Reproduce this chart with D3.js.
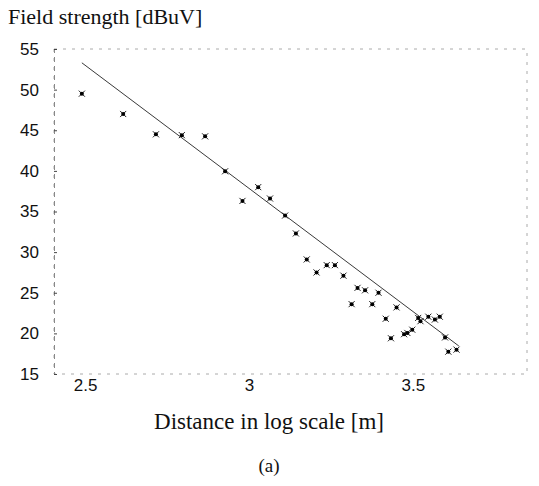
<!DOCTYPE html>
<html><head><meta charset="utf-8">
<script src="https://cdn.jsdelivr.net/npm/d3@7"></script>
<style>body{margin:0;background:#fff;}svg{display:block;}</style>
</head><body>
<script>
// Data
const distLog = [2.49, 2.616, 2.716, 2.795, 2.866, 2.927, 2.98, 3.028, 3.064, 3.11, 3.143, 3.176, 3.206, 3.237, 3.262, 3.288,
  3.313, 3.331, 3.354, 3.376, 3.395, 3.417, 3.433, 3.45, 3.473, 3.483, 3.498, 3.516, 3.523, 3.547, 3.567, 3.582, 3.598, 3.608, 3.633];
const fieldDb = [49.5, 47.0, 44.5, 44.4, 44.25, 39.95, 36.3, 38.0, 36.6, 34.5, 32.3, 29.1, 27.5, 28.4, 28.4, 27.1,
  23.6, 25.6, 25.3, 23.6, 25.0, 21.8, 19.4, 23.2, 19.9, 20.05, 20.45, 21.9, 21.5, 22.05, 21.7, 22.05, 19.5, 17.75, 18.0];
const fitX = [2.49, 3.64];
const fitY = [53.3, 18.45];
const yTicks = [15, 20, 25, 30, 35, 40, 45, 50, 55];
const xTicks = [2.5, 3, 3.5];

const W = 539, H = 486;
const svg = d3.select("body").append("svg").attr("width", W).attr("height", H);
const x = d3.scaleLinear().domain([2.405, 3.848]).range([54, 527]);
const y = d3.scaleLinear().domain([15, 55]).range([374, 49]);

// frame
svg.append("rect").attr("x", 54).attr("y", 49).attr("width", 473).attr("height", 325)
  .attr("fill", "none").attr("stroke", "#aaa").attr("stroke-width", 1).attr("stroke-dasharray", "3,6");

// y axis
const ya = svg.append("g").attr("transform", "translate(54,0)")
  .call(d3.axisLeft(y).tickValues(yTicks).tickSize(-3).tickPadding(15).tickFormat(d3.format("d")));
ya.select(".domain").attr("stroke", "#888").attr("stroke-dasharray", "5,4");
ya.selectAll(".tick line").attr("stroke", "#444");
ya.selectAll("text").attr("font-family", "Liberation Sans, Arial, sans-serif").attr("font-size", 17).attr("fill", "#111");

// x axis
const xa = svg.append("g").attr("transform", "translate(0,374)")
  .call(d3.axisBottom(x).tickValues(xTicks).tickSize(0).tickPadding(5).tickFormat(d => String(d)));
xa.select(".domain").remove();
xa.selectAll("text").attr("font-family", "Liberation Sans, Arial, sans-serif").attr("font-size", 17).attr("fill", "#111");

// fit line
svg.append("path").datum(fitX.map((d, i) => [d, fitY[i]]))
  .attr("d", d3.line().x(d => x(d[0])).y(d => y(d[1])))
  .attr("fill", "none").attr("stroke", "#222").attr("stroke-width", 0.9);

// points
const pts = distLog.map((d, i) => [d, fieldDb[i]]);
const sym = d3.symbol().type(d3.symbolTimes).size(26);
const g = svg.append("g");
g.selectAll("path.m").data(pts).join("path").attr("class", "m")
  .attr("transform", d => `translate(${x(d[0])},${y(d[1])})`)
  .attr("d", sym).attr("fill", "none").attr("stroke", "#222").attr("stroke-width", 1);
g.selectAll("circle").data(pts).join("circle")
  .attr("cx", d => x(d[0])).attr("cy", d => y(d[1])).attr("r", 2).attr("fill", "#000");

// texts
svg.append("text").attr("x", 8).attr("y", 24).text("Field strength [dBuV]")
  .attr("font-family", "Liberation Serif, Times New Roman, serif").attr("font-size", 22).attr("fill", "#111");
svg.append("text").attr("x", 269).attr("y", 429).attr("text-anchor", "middle").text("Distance in log scale [m]")
  .attr("font-family", "Liberation Serif, Times New Roman, serif").attr("font-size", 23).attr("fill", "#111");
svg.append("text").attr("x", 269).attr("y", 472).attr("text-anchor", "middle").text("(a)")
  .attr("font-family", "Liberation Serif, Times New Roman, serif").attr("font-size", 19).attr("fill", "#111");
</script>
</body></html>
